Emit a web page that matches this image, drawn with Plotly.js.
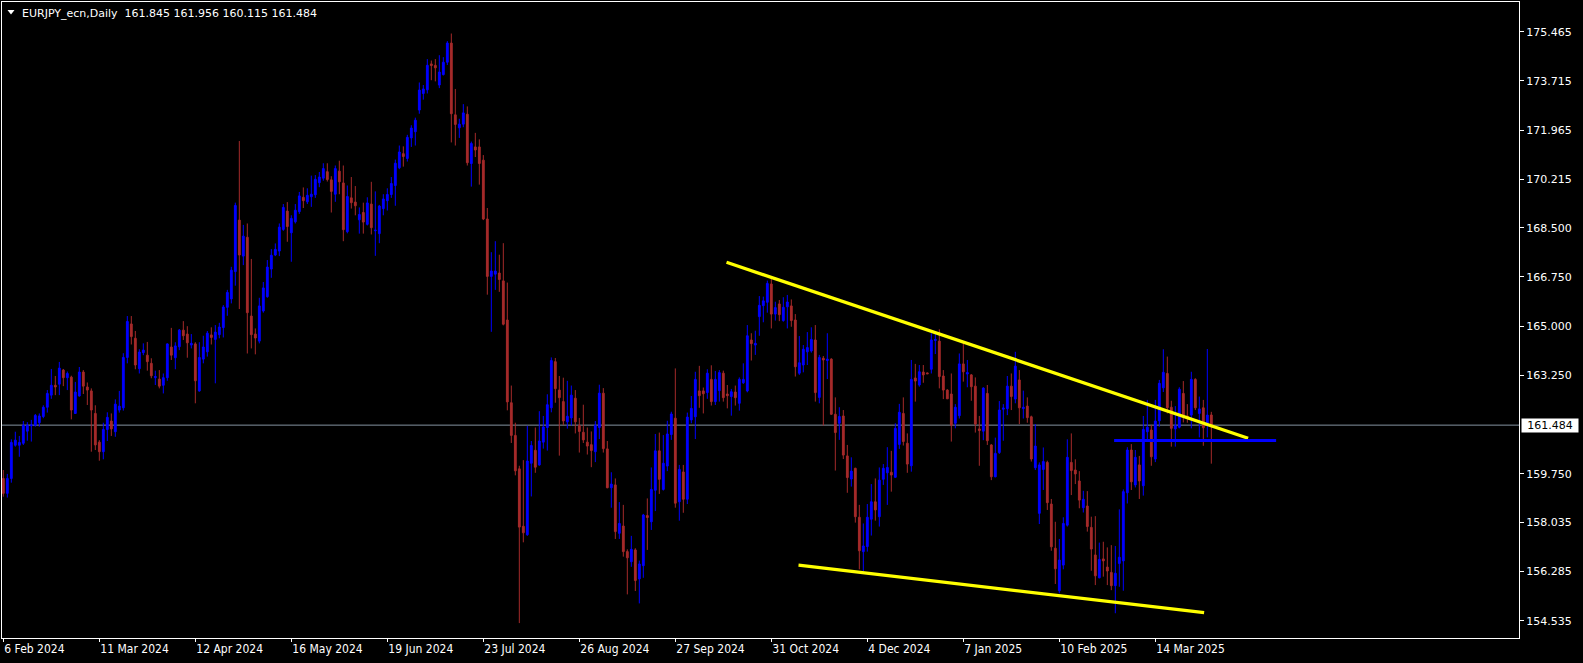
<!DOCTYPE html>
<html>
<head>
<meta charset="utf-8">
<script src="https://cdn.plot.ly/plotly-3.0.1.min.js"></script>
<style>
html,body{margin:0;padding:0;background:#000;}
#chart{width:1583px;height:663px;}
</style>
</head>
<body>
<div id="chart"></div>
<script>
// ---- data (daily candles, index 0 = 6 Feb 2024) ----
const opens = [
159.59,159.06,159.59,160.77,160.77,160.84,161.27,161.46,161.48,161.57,
161.79,162.12,162.55,162.90,162.94,163.44,163.17,163.19,161.90,162.52,
163.37,162.84,162.70,161.90,160.88,160.54,161.33,161.63,161.25,162.02,
162.10,163.89,165.08,164.57,163.49,164.06,163.97,163.68,163.17,163.12,
162.90,163.17,164.26,163.88,164.27,164.86,164.72,164.33,164.37,162.70,
163.83,164.09,164.69,164.53,164.70,164.95,165.67,165.97,166.94,168.77,
167.49,168.16,165.36,164.72,164.47,165.54,166.05,167.03,167.53,167.67,
168.44,169.09,168.32,168.71,169.07,169.58,169.42,169.60,169.67,170.10,
170.26,170.49,170.20,169.69,170.51,170.09,168.36,169.56,169.41,168.78,
169.04,168.62,169.34,168.39,168.29,169.18,169.46,169.68,170.00,170.63,
171.13,170.96,171.69,171.91,172.68,173.27,173.40,174.32,174.27,173.57,
173.94,174.38,175.06,172.51,172.05,172.18,172.53,170.78,171.37,171.37,
170.90,168.81,166.77,166.85,166.89,166.61,165.22,162.28,161.12,159.93,
157.89,157.59,160.13,160.59,160.07,160.88,161.40,162.10,163.74,162.73,
162.32,161.60,161.74,162.44,161.47,161.23,160.88,160.79,160.54,161.40,
162.62,160.64,159.26,159.36,157.64,157.90,156.99,156.63,157.05,156.02,
156.49,158.27,158.05,159.17,160.57,159.20,160.03,161.15,161.73,158.76,
159.82,158.85,161.67,161.78,162.70,162.70,162.64,163.11,162.32,162.71,
163.33,162.59,162.50,162.66,162.26,162.99,162.70,164.51,164.33,165.34,
165.73,165.85,166.50,165.43,165.79,165.20,165.69,165.72,165.22,163.33,
163.62,164.09,164.12,164.51,162.47,163.86,163.78,163.83,161.87,161.55,
161.81,160.39,159.57,159.95,158.21,156.99,157.17,158.14,158.76,158.23,
159.56,159.79,159.81,159.63,160.80,161.90,160.84,160.04,163.16,162.91,
163.37,163.34,163.47,164.49,164.47,163.23,162.73,162.59,161.55,161.82,
163.66,163.30,163.27,162.87,161.35,161.27,162.61,160.78,159.65,160.51,
162.05,162.07,162.87,162.41,163.09,162.07,162.16,161.78,159.97,158.35,
159.91,160.16,158.68,157.11,155.60,156.51,157.93,160.16,159.89,159.50,
158.55,158.61,157.85,156.87,156.06,156.73,156.44,156.25,155.78,156.57,
156.66,159.08,160.60,159.36,160.07,159.33,161.25,161.31,160.28,161.64,
162.81,163.32,162.12,161.35,161.41,162.61,161.81,161.84,163.11,161.90,
162.10,161.55,161.845];

const highs = [
159.89,159.75,160.98,161.25,161.10,161.63,161.59,161.67,161.88,161.90,
162.19,162.73,163.48,163.23,163.73,163.48,163.39,163.24,163.02,163.55,
163.44,163.00,162.79,162.19,160.95,161.57,161.94,161.90,162.40,162.70,
164.04,165.36,165.36,164.83,164.18,164.39,164.44,163.86,163.42,163.44,
163.32,164.39,164.94,164.43,164.90,165.18,165.00,164.72,164.43,164.43,
164.66,164.83,164.96,165.04,165.12,165.75,166.29,167.11,169.39,171.58,
168.60,168.65,167.39,164.92,166.01,166.57,167.35,167.74,167.94,168.65,
169.34,169.41,168.94,169.34,169.77,169.93,169.90,170.35,170.37,170.48,
170.79,170.79,170.33,170.71,170.88,170.71,170.00,170.30,169.98,169.22,
169.39,169.58,170.13,169.79,169.31,169.69,169.90,170.30,170.92,171.42,
171.39,171.80,172.14,172.41,173.66,173.57,174.49,174.44,174.49,174.63,
174.56,175.13,175.40,173.43,172.37,172.89,172.81,171.56,171.87,171.64,
171.08,169.20,167.63,168.02,167.54,167.95,166.55,162.89,161.57,160.04,
160.24,161.46,160.92,161.40,161.98,161.81,162.58,163.89,163.87,163.23,
163.17,163.06,162.89,162.73,161.74,162.21,161.40,161.26,161.63,162.92,
162.80,160.92,159.81,159.59,158.75,158.65,157.07,157.55,157.11,156.67,
158.33,158.88,159.98,161.17,161.22,161.13,161.64,161.96,163.50,160.07,
160.07,161.93,162.52,163.38,163.59,162.82,163.47,163.61,163.41,163.44,
163.42,162.91,162.77,162.89,163.18,163.68,165.04,164.75,164.84,166.07,
166.05,166.62,166.70,165.87,165.93,166.03,166.11,165.95,165.43,164.65,
164.33,164.79,164.96,165.04,163.98,163.94,164.75,163.86,162.47,162.12,
162.02,160.78,160.34,159.97,158.65,157.99,158.68,159.39,159.59,159.98,
160.10,160.70,160.57,161.55,162.24,162.47,161.19,163.80,163.66,163.62,
163.62,163.35,164.75,164.75,164.89,163.44,162.76,163.32,162.23,164.03,
164.39,163.80,163.30,163.18,161.81,162.83,162.91,160.81,161.04,162.34,
162.23,163.23,163.32,164.09,163.44,162.71,162.47,161.82,161.52,160.16,
160.69,160.22,158.86,158.05,157.44,158.21,160.98,161.19,160.27,159.85,
159.15,159.14,158.23,158.25,157.31,157.34,157.14,157.22,157.19,158.49,
159.20,160.70,160.81,160.60,160.39,161.81,162.38,161.49,162.38,163.09,
164.18,163.92,162.35,162.16,162.83,163.05,162.23,163.38,163.15,162.50,
162.38,164.19,161.956];

const lows = [
158.94,158.91,159.44,160.72,160.36,160.78,160.93,160.90,161.43,161.43,
161.73,161.93,162.42,162.55,162.55,162.87,162.73,161.69,161.88,162.50,
162.59,162.20,160.54,160.60,160.22,160.27,160.92,161.10,161.07,161.93,
162.00,163.68,164.35,163.47,163.32,163.97,163.42,163.15,162.91,162.79,
162.61,163.06,163.80,163.47,164.15,164.51,163.88,164.21,162.26,162.67,
163.68,163.92,164.35,162.97,164.57,164.60,165.37,165.81,166.44,165.61,
167.17,164.03,164.21,164.00,164.39,165.48,166.01,166.72,167.49,167.49,
168.39,168.00,167.29,168.65,168.99,169.20,169.34,169.24,169.56,169.94,
170.17,170.14,169.04,169.42,169.69,168.02,168.30,169.18,168.94,168.29,
168.29,168.58,168.26,167.50,167.95,168.94,169.11,169.56,169.28,170.58,
170.67,170.85,171.37,171.42,172.55,173.05,173.27,173.74,173.70,173.46,
173.91,174.28,171.53,171.42,171.69,172.07,170.71,169.96,171.01,170.03,
168.77,166.12,164.80,166.29,166.22,165.03,162.01,160.85,159.70,154.45,
157.32,157.55,158.95,159.79,160.04,160.65,160.58,161.94,162.28,160.40,
161.49,161.36,161.47,161.19,160.51,160.85,160.44,159.99,160.17,160.99,
160.51,159.24,158.55,157.44,157.44,156.81,155.47,156.45,155.59,155.15,
156.06,157.05,157.76,158.43,159.04,159.16,159.85,160.96,158.55,158.09,
158.37,158.68,161.55,160.99,162.10,161.90,162.42,162.18,162.20,162.32,
162.32,162.08,161.82,162.18,162.00,162.95,162.65,163.78,163.98,164.66,
165.14,165.48,164.92,165.20,165.18,165.16,164.92,164.98,163.21,163.27,
163.36,163.62,164.06,162.32,162.26,161.47,163.12,161.85,159.87,160.96,
160.28,159.08,159.30,158.02,156.36,156.30,156.99,157.56,158.09,157.88,
159.36,158.65,159.12,159.62,160.64,160.76,159.79,159.83,162.32,162.85,
162.99,163.30,163.32,164.01,162.79,162.41,162.41,160.90,161.37,161.72,
163.03,162.83,162.35,161.22,160.04,160.95,160.78,159.53,159.63,160.46,
160.93,161.84,162.02,162.26,161.52,161.72,161.57,160.19,159.89,157.97,
159.18,158.47,157.02,155.84,155.51,156.36,157.88,159.00,159.39,158.53,
158.38,157.70,156.31,155.80,156.04,156.10,155.80,155.62,154.80,155.74,
155.60,158.70,159.18,159.27,158.86,158.98,160.92,160.04,160.17,161.43,
162.66,161.90,160.72,160.72,161.37,161.58,161.57,161.37,162.02,161.05,
160.75,161.05,160.115];

const closes = [
159.06,159.59,160.87,160.95,160.87,161.48,161.48,161.49,161.83,161.81,
162.12,162.61,162.90,162.84,163.51,163.17,163.32,162.02,162.66,163.37,
162.87,162.73,162.02,160.78,160.54,161.33,161.76,161.35,162.23,162.16,
163.89,165.17,164.63,163.62,164.08,164.15,163.74,163.24,163.21,162.87,
163.17,164.37,163.97,164.30,164.86,164.66,164.41,164.39,163.06,163.89,
164.26,164.75,164.60,164.79,164.97,165.68,166.20,166.99,169.29,167.53,
168.20,165.48,164.70,164.58,165.72,166.36,167.10,167.52,167.73,168.52,
169.22,168.54,168.83,169.12,169.63,169.46,169.65,169.69,170.22,170.30,
170.60,170.21,169.79,170.60,170.13,168.43,169.61,169.39,169.28,168.97,
168.70,169.38,168.50,168.41,169.27,169.52,169.68,170.07,170.79,171.19,
171.03,171.71,172.04,172.32,173.39,173.43,174.27,174.26,174.18,174.03,
174.38,175.06,172.55,172.17,172.18,172.58,170.81,171.49,171.26,170.78,
168.81,166.77,166.96,166.96,166.66,165.07,162.31,161.12,159.86,157.86,
157.66,160.21,160.76,159.99,160.92,161.42,162.21,163.78,162.78,162.46,
161.63,161.80,162.55,161.60,161.26,160.96,160.74,160.58,161.47,162.62,
160.65,159.26,159.39,157.70,157.99,156.99,156.77,157.07,155.96,156.55,
158.29,158.20,159.20,160.57,159.56,160.13,161.17,161.88,158.71,159.91,
158.85,161.77,162.08,163.11,162.53,162.60,163.33,162.32,163.11,163.35,
162.46,162.53,162.67,162.46,163.11,163.11,164.66,164.38,164.39,165.74,
165.90,166.52,165.43,165.66,165.41,165.67,165.86,165.20,163.56,163.70,
164.18,164.24,164.53,162.64,163.89,163.80,163.83,161.87,161.22,161.79,
160.42,159.62,159.85,158.23,157.02,157.19,158.21,158.76,158.47,159.53,
159.95,159.98,159.71,161.37,161.94,160.90,160.10,163.11,163.05,163.38,
163.27,163.31,164.51,164.53,163.21,162.73,162.42,161.48,162.12,163.66,
163.38,163.35,162.85,161.52,161.29,162.80,160.93,159.65,160.48,162.02,
162.09,162.87,162.50,163.58,162.10,162.12,161.75,160.28,160.74,160.07,
160.19,158.73,157.16,156.38,156.69,157.99,160.34,159.87,159.75,158.82,
158.85,157.88,157.08,156.13,156.71,156.66,156.30,155.78,156.22,156.79,
159.12,160.60,159.47,160.34,159.50,161.33,161.41,160.36,161.63,162.97,
163.36,162.10,161.37,161.46,162.76,161.84,161.72,163.11,162.10,162.06,
161.39,161.84,161.484];

const barIndex = opens.map((_, i) => i);

// time axis labels (every 24 bars)
const dateTickPos = [0, 24, 48, 72, 96, 120, 144, 168, 192, 216, 240, 264, 288];
const dateTickText = ['6 Feb 2024','11 Mar 2024','12 Apr 2024','16 May 2024','19 Jun 2024',
  '23 Jul 2024','26 Aug 2024','27 Sep 2024','31 Oct 2024','4 Dec 2024','7 Jan 2025',
  '10 Feb 2025','14 Mar 2025'];

// price axis labels
const priceTicks = [175.465, 173.715, 171.965, 170.215, 168.500, 166.750, 165.000,
  163.250, 159.750, 158.035, 156.285, 154.535];
const priceTickText = ['175.465','173.715','171.965','170.215','168.500','166.750','165.000',
  '163.250','159.750','158.035','156.285','154.535'];

// header & last price
const symbolName = 'EURJPY_ecn,Daily';
const lastOHLC = ['161.845', '161.956', '160.115', '161.484'];
const lastPrice = 161.484;

// drawn objects (bar index, price)
const upperTrendX = [180.8, 311.2];
const upperTrendY = [167.27, 161.02];
const lowerTrendX = [198.8, 300.2];
const lowerTrendY = [156.51, 154.82];
const levelX = [277.7, 318.2];
const levelY = 160.94;

const trace = {
  type: 'candlestick',
  x: barIndex,
  open: opens, high: highs, low: lows, close: closes,
  increasing: {line: {color: '#0000FF', width: 1}, fillcolor: '#0000FF'},
  decreasing: {line: {color: '#A52A2A', width: 1}, fillcolor: '#A52A2A'},
  whiskerwidth: 0,
  hoverinfo: 'skip',
  showlegend: false
};

const axisFont = {family: 'DejaVu Sans, Verdana, sans-serif', size: 11, color: '#FFFFFF'};

const layout = {
  width: 1583, height: 663,
  margin: {l: 2, r: 64, t: 2, b: 25, pad: 0},
  paper_bgcolor: '#000000',
  plot_bgcolor: '#000000',
  showlegend: false,
  boxgap: 0.35,
  xaxis: {
    type: 'linear',
    range: [-0.33, 378.92],
    rangeslider: {visible: false},
    tickmode: 'array', tickvals: dateTickPos, ticktext: dateTickText,
    ticks: 'outside', ticklen: 3, tickwidth: 1, tickcolor: '#FFFFFF',
    ticklabelposition: 'outside right',
    tickfont: {family: 'DejaVu Sans Condensed, DejaVu Sans, sans-serif', size: 12, color: '#FFFFFF'},
    showgrid: false, zeroline: false,
    showline: true, linecolor: '#FFFFFF', linewidth: 1, mirror: true,
    fixedrange: true
  },
  yaxis: {
    side: 'right',
    range: [153.92, 176.52],
    tickmode: 'array', tickvals: priceTicks, ticktext: priceTickText,
    ticks: 'outside', ticklen: 4, tickwidth: 1, tickcolor: '#FFFFFF',
    tickfont: axisFont,
    showgrid: false, zeroline: false,
    showline: true, linecolor: '#FFFFFF', linewidth: 1, mirror: true,
    fixedrange: true
  },
  shapes: [
    {type: 'line', xref: 'paper', yref: 'y', x0: 0, x1: 1, y0: lastPrice, y1: lastPrice,
     line: {color: '#8593A1', width: 1}, layer: 'below'},
    {type: 'line', xref: 'x', yref: 'y', x0: upperTrendX[0], x1: upperTrendX[1],
     y0: upperTrendY[0], y1: upperTrendY[1], line: {color: '#FFFF00', width: 3.3}, layer: 'above'},
    {type: 'line', xref: 'x', yref: 'y', x0: lowerTrendX[0], x1: lowerTrendX[1],
     y0: lowerTrendY[0], y1: lowerTrendY[1], line: {color: '#FFFF00', width: 3.3}, layer: 'above'},
    {type: 'line', xref: 'x', yref: 'y', x0: levelX[0], x1: levelX[1],
     y0: levelY, y1: levelY, line: {color: '#0000FF', width: 3}, layer: 'above'},
    {type: 'path', xref: 'paper', yref: 'paper',
     path: 'M 0.00363 0.98742 L 0.00824 0.98742 L 0.00593 0.98035 Z',
     fillcolor: '#FFFFFF', line: {color: '#FFFFFF', width: 0}, layer: 'above'}
  ],
  annotations: [
    {xref: 'paper', yref: 'paper', x: 0, y: 1, xanchor: 'left', yanchor: 'middle',
     xshift: 18, yshift: -11, showarrow: false, align: 'left',
     text: symbolName + '&nbsp;&nbsp;' + lastOHLC.join(' '),
     font: {family: 'DejaVu Sans, Verdana, sans-serif', size: 11, color: '#FFFFFF'}},
    {xref: 'paper', yref: 'y', x: 1, y: lastPrice, xanchor: 'left', yanchor: 'middle',
     xshift: 2, showarrow: false, text: lastOHLC[3],
     bgcolor: '#FFFFFF', borderpad: 1, width: 54, height: 11, align: 'center',
     font: {family: 'DejaVu Sans, Verdana, sans-serif', size: 11, color: '#000000'}}
  ]
};

Plotly.newPlot('chart', [trace], layout, {displayModeBar: false, staticPlot: true});
</script>
</body>
</html>
